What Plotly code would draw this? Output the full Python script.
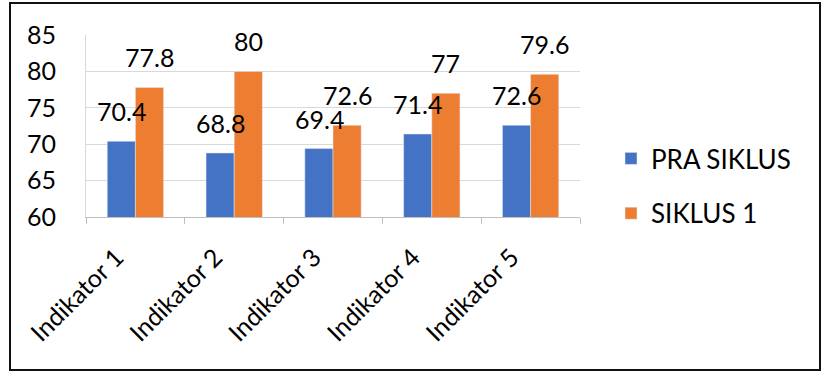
import plotly.graph_objects as go

categories = ["Indikator 1", "Indikator 2", "Indikator 3", "Indikator 4", "Indikator 5"]
pra_siklus = [70.4, 68.8, 69.4, 71.4, 72.6]
siklus_1 = [77.8, 80, 72.6, 77, 79.6]
y_ticks = [60, 65, 70, 75, 80, 85]

FONT = "Lato, 'Open Sans', sans-serif"
BLUE = "#4472C4"
ORANGE = "#ED7D31"

fig = go.Figure()
fig.add_trace(go.Bar(name="PRA SIKLUS", x=categories, y=pra_siklus, marker_color=BLUE,
                     legendgroup="a"))
fig.add_trace(go.Bar(name="SIKLUS 1", x=categories, y=siklus_1, marker_color=ORANGE,
                     legendgroup="b"))

annotations = []
for vals, dx in ((pra_siklus, -14), (siklus_1, 14)):
    for c, v in zip(categories, vals):
        annotations.append(dict(x=c, y=v, xref="x", yref="y", text=f"{v:g}", showarrow=False,
                                xshift=dx, yshift=13, yanchor="bottom",
                                font=dict(family=FONT, size=25, color="#000")))

L, R, T, B = 86, 580, 35, 217
W, H = 833, 377
pw, ph = R - L, B - T
def px(x):
    return (x - L) / pw
def py(y):
    return (B - y) / ph

fig.update_layout(
    width=W, height=H,
    margin=dict(l=L, r=W - R, t=T, b=H - B),
    paper_bgcolor="white", plot_bgcolor="white",
    barmode="group", bargap=0.43, bargroupgap=0,
    font=dict(family=FONT, size=24, color="#000"),
    annotations=annotations,
    legend=dict(x=px(611), y=py(135), xanchor="left", yanchor="top",
                font=dict(family=FONT, size=26, color="#000"),
                tracegroupgap=18, itemwidth=30),
    xaxis=dict(type="category", tickangle=-45, showline=True, linecolor="#BFBFBF",
               ticks="outside", tickson="boundaries", ticklen=6, tickcolor="#BFBFBF",
               ticklabelstandoff=15, ticklabelshift=-19,
               tickfont=dict(family=FONT, size=25, color="#000"), showgrid=False),
    yaxis=dict(range=[60, 85], tickvals=y_ticks, showgrid=True, gridcolor="#D9D9D9",
               showline=True, linecolor="#D9D9D9", zeroline=False,
               ticklabelstandoff=24,
               tickfont=dict(family=FONT, size=25, color="#000")),
    shapes=[dict(type="rect", xref="paper", yref="paper",
                 x0=px(10), x1=px(820), y0=py(370), y1=py(3),
                 line=dict(color="#111", width=2), layer="above")],
)

fig.write_html("out.html")
